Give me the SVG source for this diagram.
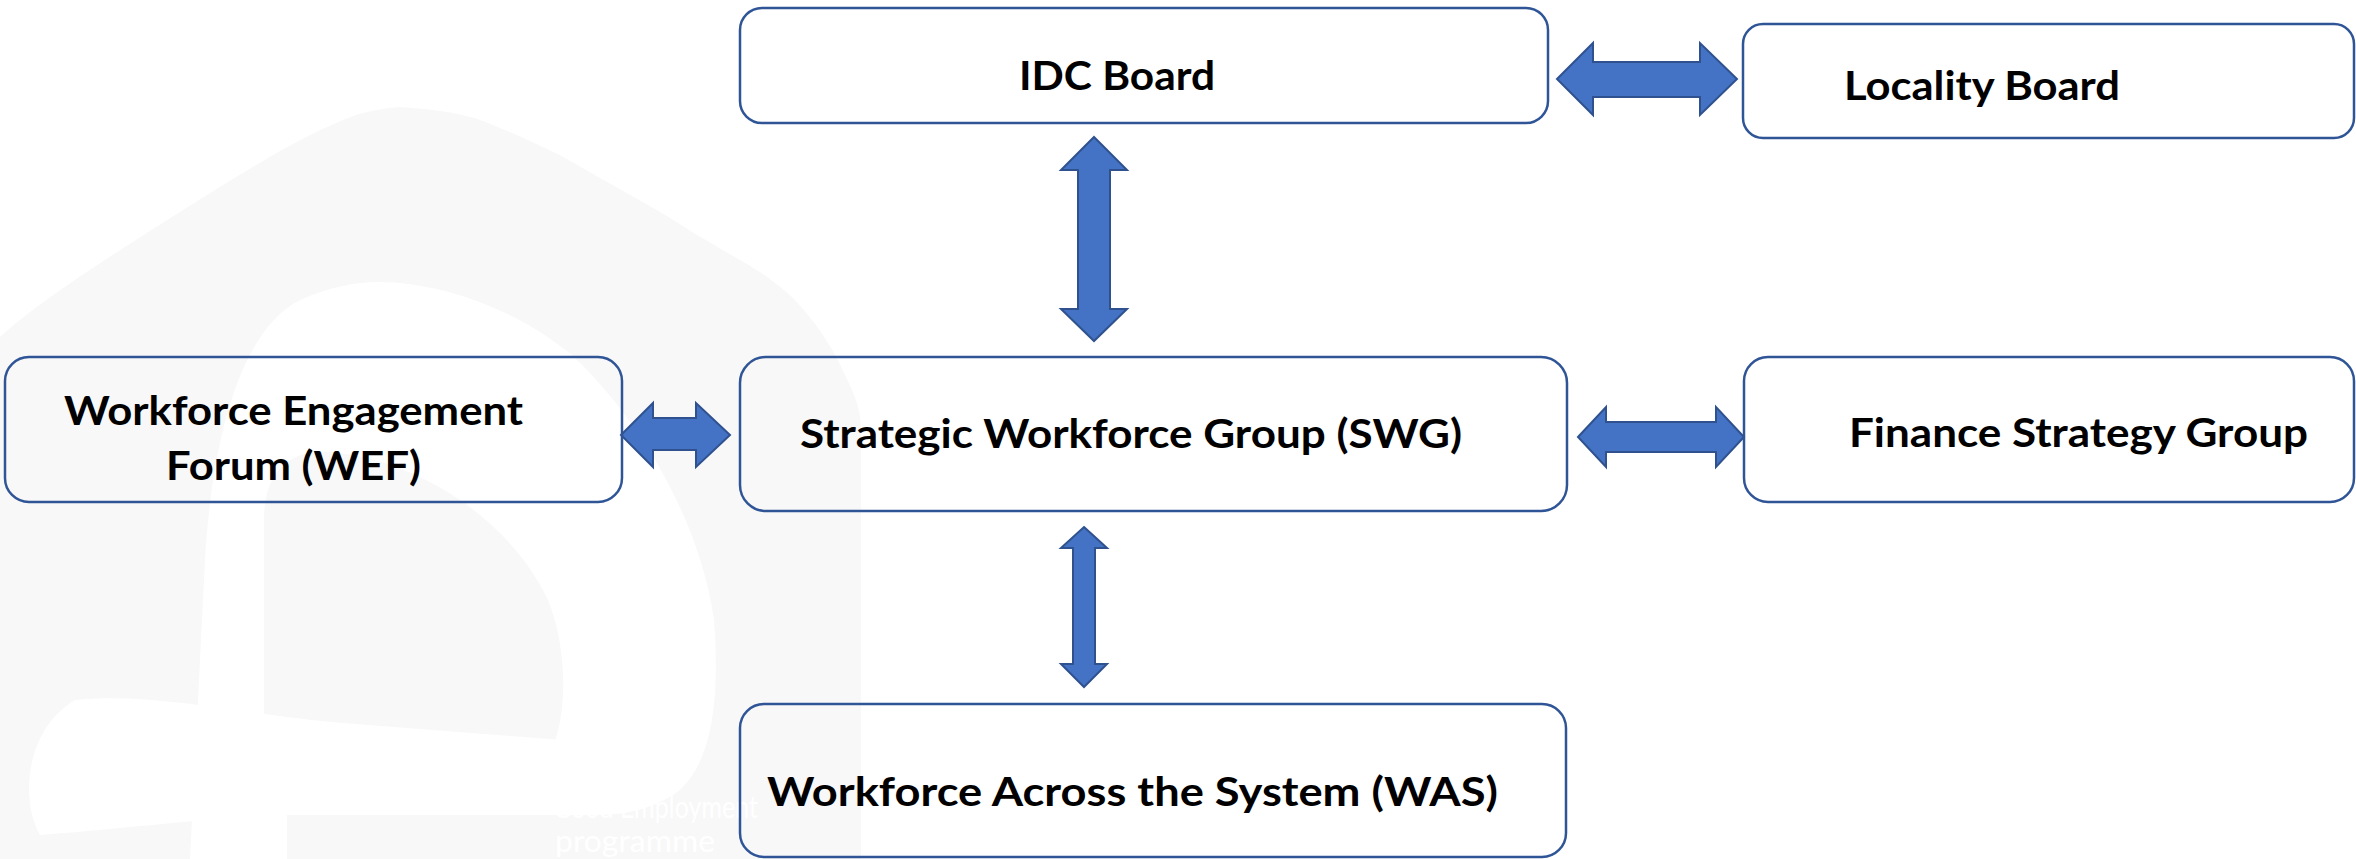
<svg xmlns="http://www.w3.org/2000/svg" width="2356" height="859" viewBox="0 0 2356 859">
<style>
.box{fill:none;stroke:#2f5597;stroke-width:2.5}
.arr{fill:#4472c4;stroke:#2f528f;stroke-width:2;stroke-linejoin:miter}
.lbl{font-family:Lato,"Liberation Sans",sans-serif;font-weight:bold;font-size:40px;fill:#000}
.wm{fill:#f8f8f9}
.wmt{font-family:Lato,"Liberation Sans",sans-serif;font-size:30px;fill:#ffffff}
</style>
<rect width="2356" height="859" fill="#ffffff"/>
<g id="watermark">
<path class="wm" d="M0,337 C40,300 120,250 172,217 C240,175 300,135 356,115 C380,108 400,106 413,108 C440,110 470,115 488,123 C530,140 560,155 574,163 C620,190 660,210 689,230 C730,255 760,270 775,283 C800,300 830,340 844,373 C855,395 861,410 861,430 L861,859 L0,859 Z"/>
<path fill="#ffffff" d="M190,859 L205,560 C212,440 240,330 300,300 C330,287 355,282 379,282 C440,282 520,310 574,357 C640,420 700,520 714,620 C720,700 712,760 680,790 C650,812 620,815 590,815 L287,815 L287,859 Z"/>
<path class="wm" d="M264,741 L264,520 C264,470 290,450 330,452 C420,460 510,520 548,600 C568,650 566,710 555,741 Z"/>
<path fill="#ffffff" d="M75,700 C150,692 230,712 330,722 L574,741 L560,812 L402,800 C300,810 150,826 40,835 C20,800 25,730 75,700 Z"/>
<text class="wmt" x="553" y="818" textLength="205" lengthAdjust="spacingAndGlyphs">Good Employment</text>
<text class="wmt" x="555" y="852" textLength="160" lengthAdjust="spacingAndGlyphs">programme</text>
</g>
<g id="connectors">
<path class="arr" d="M1557,79 L1593,43 L1593,62 L1700,62 L1700,43 L1737,79 L1700,115 L1700,97 L1593,97 L1593,115 Z"/>
<path class="arr" d="M1094,137 L1127,170 L1110,170 L1110,309 L1127,309 L1094,341 L1061,309 L1078,309 L1078,170 L1061,170 Z"/>
<path class="arr" d="M621,435 L653,403 L653,418 L696,418 L696,403 L730,435 L696,467 L696,450 L653,450 L653,467 Z"/>
<path class="arr" d="M1578,437 L1606,407 L1606,422 L1716,422 L1716,407 L1744,437 L1716,467 L1716,452 L1606,452 L1606,467 Z"/>
<path class="arr" d="M1084,527 L1107,548 L1095,548 L1095,664 L1107,664 L1084,687 L1061,664 L1073,664 L1073,548 L1061,548 Z"/>
</g>
<g id="idc-board">
<rect class="box" x="740" y="8" width="808" height="115" rx="22"/>
<text class="lbl" x="1019" y="90" textLength="196" lengthAdjust="spacingAndGlyphs">IDC Board</text>
</g>
<g id="locality-board">
<rect class="box" x="1743" y="24" width="611" height="114" rx="20"/>
<text class="lbl" x="1844" y="100" textLength="276" lengthAdjust="spacingAndGlyphs">Locality Board</text>
</g>
<g id="wef">
<rect class="box" x="5" y="357" width="617" height="145" rx="24"/>
<text class="lbl" x="64" y="425" textLength="459" lengthAdjust="spacingAndGlyphs">Workforce Engagement</text>
<text class="lbl" x="166" y="480" textLength="255" lengthAdjust="spacingAndGlyphs">Forum (WEF)</text>
</g>
<g id="swg">
<rect class="box" x="740" y="357" width="827" height="154" rx="26"/>
<text class="lbl" x="800" y="448" textLength="662" lengthAdjust="spacingAndGlyphs">Strategic Workforce Group (SWG)</text>
</g>
<g id="finance">
<rect class="box" x="1744" y="357" width="610" height="145" rx="24"/>
<text class="lbl" x="1849" y="447" textLength="459" lengthAdjust="spacingAndGlyphs">Finance Strategy Group</text>
</g>
<g id="was">
<rect class="box" x="740" y="704" width="826" height="153" rx="24"/>
<text class="lbl" x="767" y="806" textLength="731" lengthAdjust="spacingAndGlyphs">Workforce Across the System (WAS)</text>
</g>
</svg>
